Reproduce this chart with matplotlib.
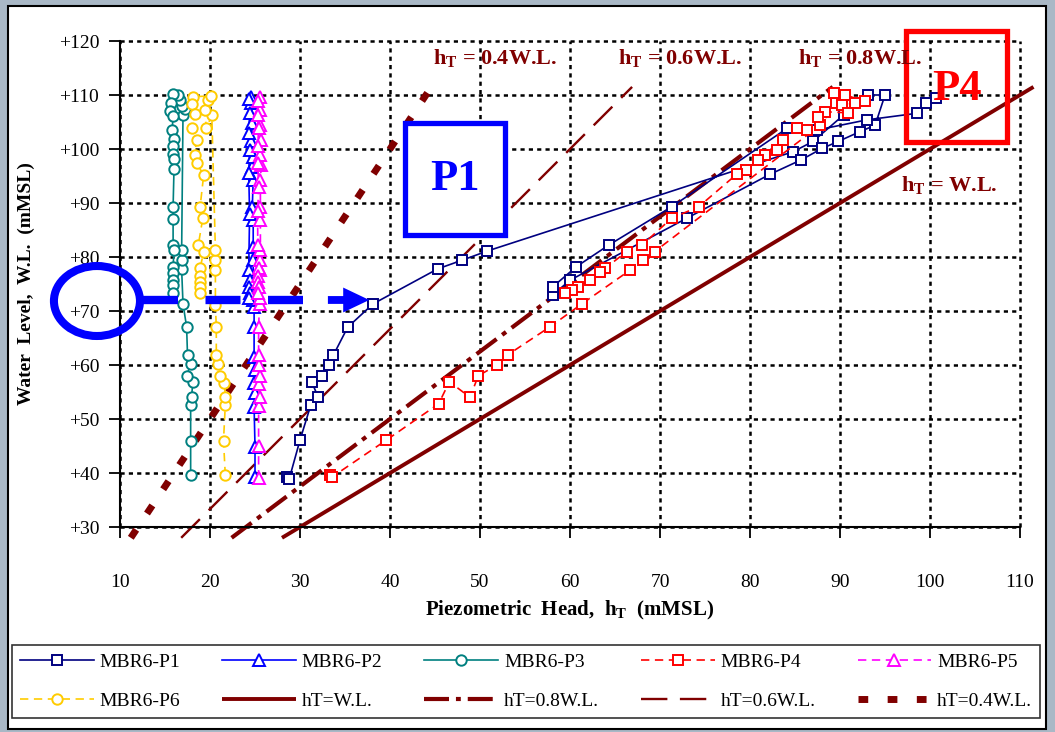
import numpy as np
import matplotlib
matplotlib.use('Agg')
import matplotlib.pyplot as plt
from matplotlib.patches import Rectangle, Ellipse

plt.rcParams['font.family'] = 'Liberation Serif'
plt.rcParams['mathtext.fontset'] = 'custom'
plt.rcParams['mathtext.rm'] = 'Liberation Serif:bold'
plt.rcParams['mathtext.it'] = 'Liberation Serif:bold'
plt.rcParams['mathtext.bf'] = 'Liberation Serif:bold'
plt.rcParams['lines.scale_dashes'] = False

# piezometer readings: (head, water level)
p1_x = [28.5, 28.8, 30.0, 31.2, 32.0, 31.3, 32.4, 33.2, 33.7, 35.3, 38.1, 45.3, 48.0, 50.8,
        84.8, 87.0, 90.4, 93.1, 95.0, 93.9, 92.2, 89.8, 88.0, 85.7, 82.2, 73.0, 60.0, 58.1,
        58.1, 60.7, 64.3, 71.3, 84.1, 87.4, 93.0, 98.5, 99.6, 100.7]
p1_y = [39.2, 38.9, 46.1, 52.6, 54.1, 56.9, 58.0, 60.0, 61.8, 67.0, 71.3, 77.8, 79.4, 81.1,
        99.5, 101.4, 106.3, 110.0, 110.0, 104.4, 103.2, 101.4, 100.1, 98.0, 95.3, 87.2, 75.7, 73.0,
        74.5, 78.2, 82.2, 89.3, 103.8, 103.5, 105.4, 106.6, 108.5, 109.4]

p2_x = [25.0, 25.0, 24.9, 25.0, 24.9, 25.0, 24.9, 24.9, 24.9, 24.8, 24.8, 24.8, 24.8, 24.7,
        24.8, 24.7, 24.8, 24.6, 24.7, 24.6, 24.5, 24.3, 24.4, 24.3, 24.4, 24.3, 24.4, 24.3,
        24.4, 24.3, 24.4, 24.3]
p2_y = [39.3, 44.9, 52.3, 54.8, 56.6, 59.1, 61.5, 67.1, 70.8, 72.0, 79.4, 81.9, 86.9, 89.3,
        94.3, 96.7, 98.6, 101.4, 104.8, 108.5, 109.7, 109.2, 106.6, 102.9, 99.8, 95.5, 88.0, 77.6,
        75.7, 74.5, 73.3, 72.4]

p3_x = [17.85, 17.85, 17.85, 17.95, 18.1, 17.4, 17.85, 17.5, 17.4, 17.0, 16.85, 16.85, 16.85,
        17.0, 17.2, 16.85, 16.7, 16.4,
        15.9, 15.7, 15.6, 15.9, 15.8, 16.0, 15.9, 15.9, 16.0, 16.0, 15.9, 15.9, 15.9, 16.0,
        15.9, 15.9, 15.9, 15.9, 15.9]
p3_y = [39.6, 46.0, 52.6, 54.1, 56.9, 58.0, 60.1, 61.9, 67.1, 71.3, 77.7, 79.4, 81.3,
        106.3, 107.5, 108.0, 109.1, 110.0,
        110.1, 108.6, 107.0, 106.1, 103.6, 101.8, 100.6, 99.0, 98.1, 96.3, 89.3, 87.1, 82.2, 81.3,
        78.2, 77.0, 75.7, 74.8, 73.3]

p4_x = [33.3, 33.6, 39.6, 45.4, 46.6, 48.9, 49.8, 51.9, 53.1, 57.8, 61.3, 66.7, 68.1, 69.4,
        87.8, 89.6, 89.3,
        90.6, 92.8, 91.7, 90.2, 90.9, 88.3, 87.6, 86.3, 85.2, 83.7, 83.0, 81.7, 80.9, 79.6, 78.5,
        74.3, 71.3, 68.0, 66.3, 63.9, 63.3, 62.2, 60.9, 60.2, 59.4]
p4_y = [39.6, 39.3, 46.1, 52.8, 56.9, 54.0, 58.0, 60.0, 61.9, 67.1, 71.3, 77.6, 79.4, 81.0,
        104.4, 108.5, 110.3,
        110.0, 108.8, 108.5, 108.1, 106.7, 106.9, 106.0, 103.5, 103.8, 101.7, 99.8, 98.9, 98.0, 96.1, 95.3,
        89.3, 87.2, 82.2, 81.0, 77.9, 77.3, 75.7, 74.5, 73.9, 73.3]

p5_x = [25.4, 25.4, 25.4, 25.5, 25.4, 25.5, 25.4, 25.4, 25.4, 25.5, 25.6, 25.6, 25.6, 25.6,
        25.6, 25.6, 25.6, 25.7, 25.6, 25.7, 25.6, 25.6, 25.6,
        25.3, 25.3, 25.4, 25.3, 25.3, 25.4, 25.3, 25.3, 25.4, 25.3, 25.3, 25.4, 25.3]
p5_y = [39.0, 45.0, 52.5, 54.0, 56.5, 58.0, 60.0, 61.9, 67.0, 71.3, 72.5, 77.6, 79.4, 81.3,
        86.9, 89.3, 94.3, 97.0, 98.8, 101.7, 104.4, 107.2, 109.7,
        108.8, 106.3, 103.8, 100.6, 97.5, 93.0, 88.5, 82.2, 77.9, 76.4, 75.4, 74.4, 73.3]

p6_x = [21.7, 21.5, 21.7, 21.7, 21.6, 21.1, 20.9, 20.7, 20.7, 20.6, 20.6, 20.6, 20.6,
        20.2, 19.6, 19.4, 19.8, 20.1,
        18.1, 18.0, 18.3, 18.0, 18.5, 18.3, 18.5, 19.3, 18.9, 19.2, 18.7, 19.3, 18.9, 18.9,
        18.9, 18.9, 18.9]
p6_y = [39.6, 46.0, 52.6, 54.1, 56.7, 58.0, 60.1, 61.9, 67.1, 71.1, 77.6, 79.4, 81.3,
        106.3, 103.8, 107.2, 109.1, 109.8,
        109.7, 108.3, 106.5, 103.8, 101.7, 98.9, 97.4, 95.2, 89.3, 87.2, 82.2, 81.0, 77.9, 76.4,
        75.4, 74.4, 73.3]

# reference lines hT = k * W.L.
ref_k = [1.0, 0.8, 0.6, 0.4]
ref_labels = ['hT=W.L.', 'hT=0.8W.L.', 'hT=0.6W.L.', 'hT=0.4W.L.']
ref_wl = np.array([28.0, 111.5])

xticks = list(range(10, 111, 10))
yticks = list(range(30, 121, 10))
ytick_labels = ['+%d' % v for v in yticks]

DARKRED = '#800000'

fig = plt.figure(figsize=(10.55, 7.32), dpi=100, facecolor='#a9b8c6')
fig.patches.append(Rectangle((0.0076, 0.004), 0.984, 0.988, transform=fig.transFigure,
                             facecolor='white', edgecolor='black', lw=1.5, zorder=-5))

ax = fig.add_axes([120 / 1055, 1 - 527 / 732, 900 / 1055, 486 / 732])
ax.set_facecolor('none')
ax.set_xlim(10, 110)
ax.set_ylim(30, 120)
ax.set_xticks(xticks)
ax.set_yticks(yticks)
ax.set_yticklabels(ytick_labels)
ax.tick_params(direction='out', length=8, width=1.3, labelsize=14, colors='black')
ax.tick_params(axis='x', pad=26)
ax.tick_params(axis='y', pad=7)
for s in ['top', 'right']:
    ax.spines[s].set_visible(False)
for s in ['left', 'bottom']:
    ax.spines[s].set_linewidth(1.5)

ax.set_axisbelow(True)
ax.grid(True, color='black', lw=1.8, linestyle=(0, (3, 3)))
for gl in ax.get_xgridlines() + ax.get_ygridlines():
    gl.set_clip_on(False)

# reference lines
ref_styles = [dict(ls='-', lw=2.8),
              dict(ls=(0, (18, 5, 3.5, 5)), lw=3.0),
              dict(ls=(0, (19, 9)), lw=1.7),
              dict(ls=(0, (7, 14)), lw=5.0)]
ref_handles = []
for k, lab, st in zip(ref_k, ref_labels, ref_styles):
    h, = ax.plot(k * ref_wl, ref_wl, color=DARKRED, label=lab, clip_on=False,
                 solid_capstyle='butt', dash_capstyle='butt', zorder=2, **st)
    ref_handles.append(h)

# white filled P1 box (hides grid behind it)
ax.add_patch(Rectangle((41.67, 84.07), 11.11, 20.73, facecolor='white', edgecolor='#0000ff',
                       lw=3.8, zorder=2.5, clip_on=False))
ax.text(47.2, 94.4, 'P1', color='#0000ff', fontsize=32, fontweight='bold',
        ha='center', va='center', zorder=6)

series = [
    (p1_x, p1_y, 'MBR6-P1', '#000080', '-', 's', 7.5),
    (p2_x, p2_y, 'MBR6-P2', '#0000ff', '-', '^', 8.5),
    (p3_x, p3_y, 'MBR6-P3', '#008080', '-', 'o', 7.5),
    (p4_x, p4_y, 'MBR6-P4', '#ff0000', (0, (6, 4)), 's', 7.5),
    (p5_x, p5_y, 'MBR6-P5', '#ff00ff', (0, (6, 4)), '^', 8.5),
    (p6_x, p6_y, 'MBR6-P6', '#ffcc00', (0, (6, 4)), 'o', 7.5),
]
data_handles = []
for x, y, lab, c, ls, m, ms in series:
    h, = ax.plot(x, y, color=c, ls=ls, lw=1.2, marker=m, ms=ms, mfc='white', mec=c, mew=1.4,
                 label=lab, zorder=3, clip_on=False)
    data_handles.append(h)

# P4 box (open)
ax.add_patch(Rectangle((97.3, 101.35), 11.2, 20.55, fill=False, edgecolor='#ff0000',
                       lw=3.8, zorder=6, clip_on=False))
ax.text(103.0, 111.2, 'P4', color='#ff0000', fontsize=32, fontweight='bold',
        ha='center', va='center', zorder=7, clip_on=False)

# annotations for reference lines
ann = [(51.7, 116.9, r'h$_{\mathrm{T}}$ = 0.4W.L.'),
       (72.2, 116.9, r'h$_{\mathrm{T}}$ = 0.6W.L.'),
       (92.2, 116.9, r'h$_{\mathrm{T}}$ = 0.8W.L.'),
       (102.1, 93.3, r'h$_{\mathrm{T}}$ = W.L.')]
for x, y, t in ann:
    ax.text(x, y, t, color=DARKRED, fontsize=16, fontweight='bold', ha='center', va='center',
            zorder=7)

# blue circle + dashed pointer + arrow at W.L. ~ +72
ax.add_patch(Ellipse((7.44, 71.85), 9.56, 12.96, fill=False, edgecolor='#0000ff', lw=5.8,
                     clip_on=False, zorder=8))
ax.plot([12.56, 30.33], [72.04, 72.04], color='#0000ff', lw=6, ls=(0, (25.2, 19.8)),
        dash_capstyle='butt', clip_on=False, zorder=8)
ax.arrow(33.1, 72.04, 4.6, 0, width=1.45, head_width=4.6, head_length=2.9,
         length_includes_head=True, color='#0000ff', lw=0, clip_on=False, zorder=8)

ax.set_xlabel(r'Piezometric  Head,  h$_{\mathrm{T}}$  (mMSL)', fontsize=15, fontweight='bold')
ax.xaxis.set_label_coords(0.5, -0.148)
ax.set_ylabel('Water  Level,  W.L.  (mMSL)', fontsize=14, fontweight='bold')
ax.yaxis.set_label_coords(-0.094, 0.5)

# legend, row-wise order
order = [data_handles[0], data_handles[5], data_handles[1], ref_handles[0],
         data_handles[2], ref_handles[1], data_handles[3], ref_handles[2],
         data_handles[4], ref_handles[3]]
leg = fig.legend(handles=order, labels=[h.get_label() for h in order], ncol=5,
                 loc='center', bbox_to_anchor=(12 / 1055, 5 / 732, 1028 / 1055, 91 / 732),
                 mode='expand', fontsize=14, frameon=True, fancybox=False, edgecolor='black',
                 handlelength=3.8, handletextpad=0.3, labelspacing=1.1, borderaxespad=0,
                 columnspacing=0.5)
leg.get_frame().set_linewidth(1.2)

fig.savefig('out.png', dpi=100, facecolor=fig.get_facecolor())
